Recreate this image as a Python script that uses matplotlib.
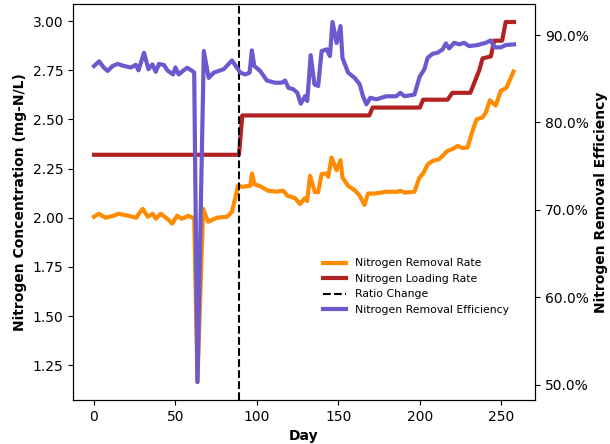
import matplotlib
matplotlib.use("Agg")
import matplotlib.pyplot as plt
from matplotlib.ticker import FormatStrFormatter, PercentFormatter, MultipleLocator

# ---------------- data ----------------
rate_days = [0, 3, 7, 12, 15, 21, 26, 27.5, 30, 33, 36, 38, 41, 45, 48, 51, 54, 58, 60.5,
             61.5, 63.5, 67, 70, 75.6, 81.7, 84.7, 86.7, 88.5, 90.8, 95.9, 97, 98.5, 102,
             107, 112, 116.2, 118.7, 123.4, 126.5, 129.5, 130.8, 132.6, 135.6, 137.6,
             139.7, 142.8, 143.8, 145.8, 148.9, 151.3, 152.5, 156, 160, 163.1, 166,
             168.2, 172.3, 179.4, 186.5, 188, 190.6, 196.7, 199.8, 201.8, 204.9, 207.9,
             212, 214, 217, 220, 223.2, 226.2, 229.3, 232.3, 234.8, 238.5, 240.5, 243,
             246.6, 249.7, 253.1, 257.5]
removal_rate = [2.005, 2.02, 2.00, 2.01, 2.02, 2.01, 2.00, 2.02, 2.045, 2.005, 2.02, 1.995,
                2.02, 1.995, 1.97, 2.01, 1.995, 2.01, 2.00,
                2.00, 1.165, 2.045, 1.98, 2.00, 2.005, 2.03, 2.10, 2.165, 2.157, 2.162,
                2.225, 2.17, 2.16,
                2.137, 2.133, 2.137, 2.112, 2.10, 2.07, 2.10, 2.085, 2.213, 2.13, 2.13,
                2.222, 2.225, 2.208, 2.306, 2.242, 2.293, 2.205, 2.162, 2.14, 2.112, 2.065,
                2.123, 2.123, 2.132, 2.132, 2.137, 2.128, 2.132, 2.205, 2.222, 2.272, 2.289,
                2.298, 2.315, 2.34, 2.349, 2.365, 2.354, 2.357, 2.44, 2.50, 2.51, 2.535,
                2.597, 2.57, 2.645, 2.66, 2.743]

load_days = [0, 89, 91, 169, 171, 200, 202, 217, 220, 231, 236.5, 238.5, 243.6, 245.6,
             250.5, 252.7, 257.8]
loading_rate = [2.32, 2.32, 2.52, 2.52, 2.56, 2.56, 2.60, 2.60, 2.635, 2.635, 2.75, 2.81,
                2.82, 2.90, 2.90, 2.995, 2.995]

eff_days = [0, 3.2, 6.1, 8.4, 11.4, 14.5, 18.5, 22.6, 25.7, 27.3, 30.7, 33.4, 35.8, 37.9,
            39.9, 43, 45, 48.5, 50, 52, 55, 57.2, 60.3, 61.5, 63.5, 67.4, 70.4, 73.5,
            79.6, 84.7, 89.8, 92.9, 95.5, 96.9, 98.4, 102, 106.1, 111.2, 115.3, 117.3,
            119.3, 122.4, 124.8, 126.9, 129.5, 130.9, 133, 135.3, 137.6, 139.7, 142.8,
            144.8, 146.4, 148.9, 151.3, 152.5, 156, 160, 163.1, 165.1, 167.2, 169.6,
            173.3, 179.4, 185.5, 188, 190.6, 196.7, 199.8, 202.8, 204.8, 207.9, 210.9,
            214, 216, 218, 221.1, 224.2, 227.2, 230.3, 235.4, 240.5, 243.6, 245.6, 249.7,
            252.7, 257.8]
removal_eff = [86.46, 87.0, 86.26, 85.9, 86.46, 86.7, 86.46, 86.3, 86.6, 85.97, 87.98,
               86.1, 86.65, 85.8, 86.7, 86.57, 85.97, 85.5, 86.3, 85.5, 85.97, 86.26, 85.9,
               85.7, 50.3, 88.17, 85.1, 85.7, 86.1, 87.1, 85.7, 85.5, 85.7, 88.25, 86.46,
               85.9, 84.8, 84.55, 84.55, 84.8, 83.98, 83.8, 83.4, 82.15, 83.0, 82.46, 87.7,
               84.37, 84.17, 88.17, 88.37, 87.6, 91.5, 89.1, 91.03, 87.4, 85.7, 85.1, 84.37,
               83.0, 82.08, 82.83, 82.65, 83.0, 83.0, 83.4, 83.0, 83.2, 85.2, 86.1, 87.4,
               87.87, 87.98, 88.37, 89.05, 88.48, 89.12, 88.94, 89.12, 88.74, 88.86, 89.12,
               89.4, 88.6, 88.6, 88.86, 88.94]

ratio_change_day = 89

# ---------------- plot ----------------
fig = plt.figure(figsize=(6.10, 4.44), dpi=100)
ax1 = fig.add_axes([73 / 610, 1 - 400 / 444, 462 / 610, 396 / 444])
ax2 = ax1.twinx()

l1, = ax1.plot(rate_days, removal_rate, color="darkorange", lw=3, label="Nitrogen Removal Rate")
l2, = ax1.plot(load_days, loading_rate, color="firebrick", lw=3, label="Nitrogen Loading Rate")
l3 = ax1.axvline(ratio_change_day, color="black", ls="--", lw=1.5, label="Ratio Change")
l4, = ax2.plot(eff_days, removal_eff, color="slateblue", lw=3, label="Nitrogen Removal Efficiency")

ax1.yaxis.set_major_locator(MultipleLocator(0.25))
ax1.yaxis.set_major_formatter(FormatStrFormatter("%.2f"))
ax2.yaxis.set_major_locator(MultipleLocator(10))
ax2.yaxis.set_major_formatter(PercentFormatter(decimals=1))

ax1.set_xlabel("Day", fontweight="bold", fontsize=10)
ax1.set_ylabel("Nitrogen Concentration (mg-N/L)", fontweight="bold", fontsize=10)
ax2.set_ylabel("Nitrogen Removal Efficiency", fontweight="bold", fontsize=10)

for ax in (ax1, ax2):
    ax.tick_params(labelsize=10)

ax2.legend(handles=[l1, l2, l3, l4], loc="upper left", bbox_to_anchor=(0.519, 0.382),
           frameon=False, fontsize=7.8, handlelength=2.2)

fig.savefig("out.png", dpi=100)
